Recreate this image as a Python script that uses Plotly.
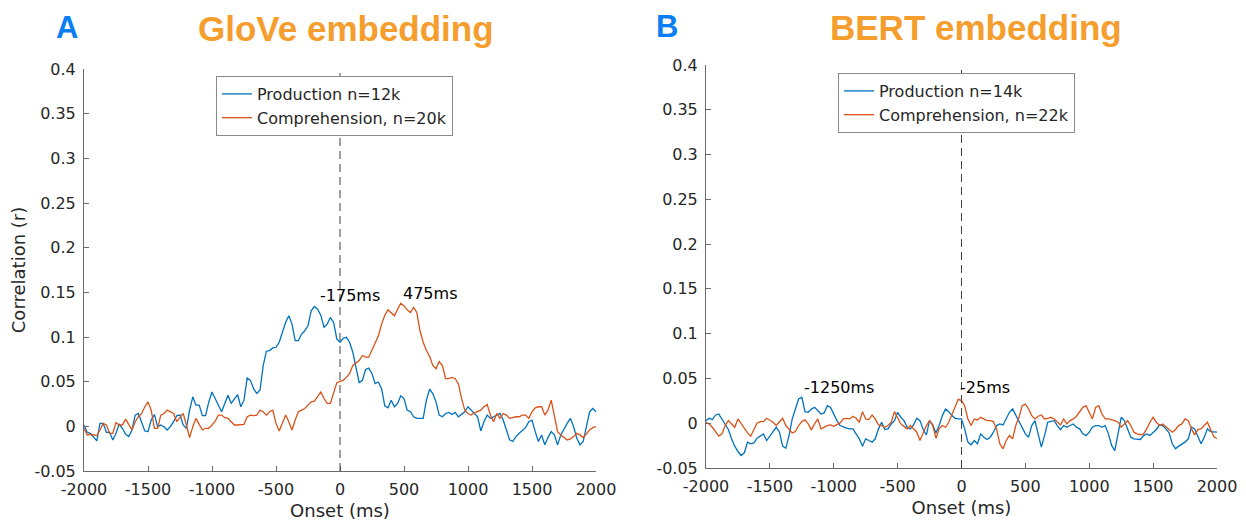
import plotly.graph_objects as go

# ---------------- data ----------------
lags = list(range(-2000, 2001, 25))  # ms

glove_prod = [
    0.0015, -0.0067, -0.0078, -0.0120, -0.0163, 0.0033, 0.0033, -0.0067, -0.0067, -0.0152,
    -0.0078, 0.0026, -0.0022, -0.0089, -0.0115, -0.0041, 0.0126, 0.0144, 0.0052, -0.0052,
    -0.0059, 0.0070, 0.0133, -0.0004, 0.0015, -0.0004, -0.0041, -0.0004, 0.0052, 0.0119,
    0.0126, 0.0015, -0.0022, 0.0181, 0.0330, 0.0237, 0.0237, 0.0119, 0.0119, 0.0274,
    0.0385, 0.0311, 0.0219, 0.0163, 0.0256, 0.0348, 0.0256, 0.0311, 0.0356, 0.0219,
    0.0293, 0.0541, 0.0515, 0.0422, 0.0367, 0.0404, 0.0681, 0.0841, 0.0848, 0.0878,
    0.0885, 0.0941, 0.1041, 0.1163, 0.1237, 0.1144, 0.0959, 0.0959, 0.1033, 0.1070,
    0.1126, 0.1293, 0.1341, 0.1311, 0.1244, 0.1107, 0.1144, 0.1219, 0.1163, 0.0978,
    0.0941,
    0.0985, 0.0996, 0.0941, 0.0830, 0.0663, 0.0489, 0.0515, 0.0637, 0.0652, 0.0589,
    0.0478, 0.0496, 0.0422, 0.0230, 0.0207, 0.0293, 0.0219, 0.0256, 0.0341, 0.0311,
    0.0181, 0.0163, 0.0107, 0.0089, 0.0089, 0.0089, 0.0293, 0.0415, 0.0367, 0.0274,
    0.0126, 0.0107, 0.0144, 0.0156, 0.0133, 0.0156, 0.0107, 0.0135, 0.0163, 0.0219,
    0.0181, 0.0144, 0.0107, -0.0052, 0.0052, 0.0126, 0.0089, 0.0107, 0.0126, 0.0144,
    0.0070, -0.0041, -0.0152, -0.0170, -0.0115, -0.0078, -0.0041, -0.0015, 0.0052, 0.0070,
    -0.0059, -0.0170, -0.0096, -0.0207, -0.0126, -0.0059, -0.0096, -0.0207, -0.0096, -0.0022,
    0.0033, 0.0089, -0.0004, -0.0133, -0.0207, -0.0170, -0.0015, 0.0163, 0.0200, 0.0163,
]

glove_comp = [
    -0.0022, -0.0096, -0.0089, -0.0096, -0.0104, -0.0041, 0.0033, 0.0015, -0.0078, -0.0078,
    0.0041, 0.0015, 0.0015, 0.0081, 0.0015, -0.0041, 0.0052, 0.0107, 0.0144, 0.0219,
    0.0274, 0.0181, -0.0022, -0.0022, 0.0126, 0.0144, 0.0181, 0.0163, 0.0144, 0.0052,
    0.0096, 0.0144, 0.0015, -0.0126, -0.0004, 0.0089, 0.0022, -0.0041, -0.0022, -0.0022,
    0.0015, 0.0059, 0.0126, 0.0126, 0.0096, 0.0089, 0.0052, 0.0015, 0.0015, 0.0015,
    0.0022, 0.0107, 0.0126, 0.0119, 0.0126, 0.0181, 0.0163, 0.0126, 0.0163, 0.0181,
    0.0033, -0.0052, 0.0033, 0.0126, 0.0052, -0.0041, 0.0070, 0.0163, 0.0181, 0.0200,
    0.0237, 0.0274, 0.0281, 0.0330, 0.0385, 0.0311, 0.0256, 0.0256, 0.0367, 0.0489,
    0.0504,
    0.0515, 0.0548, 0.0589, 0.0681, 0.0707, 0.0737, 0.0793, 0.0774, 0.0774, 0.0848,
    0.0930, 0.1015, 0.1144, 0.1244, 0.1304, 0.1274, 0.1237, 0.1311, 0.1378, 0.1348,
    0.1304, 0.1274, 0.1330, 0.1274, 0.1070, 0.0941, 0.0848, 0.0785, 0.0681, 0.0644,
    0.0726, 0.0681, 0.0533, 0.0533, 0.0548, 0.0533, 0.0478, 0.0311, 0.0181, 0.0144,
    0.0126, 0.0150, 0.0170, 0.0181, 0.0219, 0.0244, 0.0126, 0.0052, 0.0144, 0.0089,
    0.0144, 0.0126, 0.0089, 0.0100, 0.0107, 0.0107, 0.0126, 0.0126, 0.0089, 0.0163,
    0.0207, 0.0219, 0.0219, 0.0126, 0.0181, 0.0293, 0.0107, -0.0059, -0.0096, -0.0126,
    -0.0152, -0.0141, -0.0115, -0.0078, -0.0096, -0.0126, -0.0078, -0.0041, -0.0015, -0.0004,
]

bert_prod = [
    0.0029, 0.0055, 0.0041, 0.0092, 0.0103, 0.0048, -0.0019, -0.0070, -0.0174, -0.0256,
    -0.0316, -0.0360, -0.0330, -0.0211, -0.0230, -0.0219, -0.0167, -0.0145, -0.0119, -0.0193,
    -0.0138, -0.0093, -0.0045, -0.0100, -0.0256, -0.0280, -0.0138, 0.0048, 0.0159, 0.0270,
    0.0289, 0.0129, 0.0122, 0.0159, 0.0177, 0.0140, 0.0103, 0.0115, 0.0196, 0.0177,
    0.0103, 0.0029, -0.0026, -0.0045, -0.0055, -0.0063, -0.0063, -0.0119, -0.0174, -0.0256,
    -0.0174, -0.0193, -0.0211, -0.0174, -0.0063, 0.0011, -0.0071, -0.0063, -0.0008, 0.0029,
    0.0122, 0.0066, 0.0029, -0.0045, -0.0063, -0.0019, 0.0055, 0.0029, -0.0071, -0.0130,
    0.0029, -0.0019, -0.0108, -0.0026, 0.0085, 0.0159, 0.0129, 0.0085, 0.0055, 0.0048,
    0.0048,
    -0.0063, -0.0211, -0.0240, -0.0193, -0.0230, -0.0119, -0.0156, -0.0182, -0.0156, -0.0100,
    -0.0026, -0.0008, -0.0019, 0.0048, 0.0122, 0.0159, 0.0085, 0.0011, -0.0063, -0.0119,
    -0.0156, -0.0026, 0.0029, -0.0119, -0.0267, -0.0138, 0.0011, 0.0020, 0.0029, -0.0026,
    -0.0071, -0.0026, -0.0045, -0.0026, -0.0008, -0.0045, -0.0063, -0.0119, -0.0138, -0.0100,
    -0.0045, -0.0026, -0.0026, -0.0045, -0.0026, -0.0119, -0.0248, -0.0305, -0.0138, 0.0066,
    0.0029, -0.0063, -0.0156, -0.0174, -0.0178, -0.0182, -0.0138, -0.0119, -0.0138, -0.0108,
    -0.0070, -0.0019, -0.0026, -0.0063, -0.0108, -0.0230, -0.0286, -0.0256, -0.0230, -0.0211,
    -0.0174, -0.0045, -0.0063, -0.0138, -0.0230, -0.0156, -0.0063, -0.0093, -0.0100, -0.0100,
]

bert_comp = [
    0.0011, -0.0008, -0.0045, -0.0100, -0.0145, -0.0119, -0.0026, 0.0029, -0.0008, -0.0045,
    0.0048, -0.0008, -0.0056, -0.0108, -0.0145, -0.0063, 0.0003, 0.0018, 0.0018, 0.0055,
    0.0035, 0.0011, -0.0026, 0.0011, 0.0055, -0.0026, -0.0070, -0.0108, -0.0093, -0.0026,
    0.0018, 0.0037, -0.0008, -0.0074, -0.0008, 0.0048, -0.0063, -0.0045, -0.0026, -0.0019,
    -0.0034, -0.0015, 0.0003, 0.0048, 0.0055, 0.0048, 0.0078, 0.0055, 0.0011, 0.0129,
    0.0048, 0.0041, 0.0092, 0.0048, -0.0019, -0.0026, -0.0045, -0.0026, 0.0011, 0.0129,
    0.0066, -0.0008, -0.0035, -0.0063, -0.0026, -0.0063, -0.0100, -0.0193, -0.0100, -0.0026,
    0.0029, -0.0026, -0.0167, -0.0063, -0.0026, -0.0045, 0.0011, 0.0103, 0.0177, 0.0270,
    0.0253,
    0.0196, 0.0048, -0.0026, 0.0048, 0.0037, 0.0066, 0.0048, 0.0029, 0.0029, 0.0018,
    -0.0070, -0.0230, -0.0286, -0.0193, -0.0138, -0.0174, -0.0026, 0.0066, 0.0196, 0.0214,
    0.0159, 0.0085, 0.0048, 0.0078, 0.0092, 0.0048, 0.0055, 0.0066, 0.0048, 0.0011,
    -0.0019, 0.0048, -0.0008, 0.0029, 0.0048, 0.0078, 0.0122, 0.0177, 0.0196, 0.0122,
    0.0048, 0.0177, 0.0196, 0.0103, 0.0048, 0.0048, 0.0041, 0.0029, 0.0011, -0.0045,
    -0.0008, 0.0029, -0.0026, -0.0100, -0.0118, -0.0130, -0.0119, -0.0063, 0.0011, 0.0066,
    0.0011, -0.0026, -0.0008, -0.0045, -0.0070, -0.0100, -0.0070, -0.0026, -0.0008, 0.0048,
    0.0029, -0.0063, -0.0130, -0.0070, -0.0063, -0.0026, 0.0011, -0.0070, -0.0148, -0.0174,
]

x_ticks = [-2000, -1500, -1000, -500, 0, 500, 1000, 1500, 2000]
x_tick_labels = ["-2000", "-1500", "-1000", "-500", "0", "500", "1000", "1500", "2000"]
y_ticks = [-0.05, 0, 0.05, 0.1, 0.15, 0.2, 0.25, 0.3, 0.35, 0.4]
y_tick_labels = ["-0.05", "0", "0.05", "0.1", "0.15", "0.2", "0.25", "0.3", "0.35", "0.4"]

legend_a = ["Production n=12k", "Comprehension, n=20k"]
legend_b = ["Production n=14k", "Comprehension, n=22k"]

peaks_a = [(-175, 0.146, "-175ms"), (475, 0.149, "475ms")]
peaks_b = [(-1250, 0.040, "-1250ms"), (-25, 0.040, "-25ms")]

# ---------------- figure ----------------
# the page body has an 8px margin, so the figure is drawn 8px smaller and
# every window-pixel position is converted to paper coordinates with that offset
OFF = 8
W, H = 1246 - OFF, 522 - OFF


def px(x):
    return (x - OFF) / W


def py(y):
    return 1 - (y - OFF) / H


BLUE = "#0072BD"
ORANGE = "#D95319"
TXT = "#262626"
AX = "#6a6a6a"
FONT = "DejaVu Sans"

fig = go.Figure()
fig.add_trace(go.Scatter(x=lags, y=glove_prod, mode="lines", name=legend_a[0],
                         line=dict(color=BLUE, width=1.3), xaxis="x", yaxis="y", legend="legend"))
fig.add_trace(go.Scatter(x=lags, y=glove_comp, mode="lines", name=legend_a[1],
                         line=dict(color=ORANGE, width=1.3), xaxis="x", yaxis="y", legend="legend"))
fig.add_trace(go.Scatter(x=lags, y=bert_prod, mode="lines", name=legend_b[0],
                         line=dict(color=BLUE, width=1.3), xaxis="x2", yaxis="y2", legend="legend2"))
fig.add_trace(go.Scatter(x=lags, y=bert_comp, mode="lines", name=legend_b[1],
                         line=dict(color=ORANGE, width=1.3), xaxis="x2", yaxis="y2", legend="legend2"))


def xax(dom, anchor, title):
    return dict(domain=dom, anchor=anchor, range=[-2000, 2000], tickmode="array",
                tickvals=x_ticks, ticktext=x_tick_labels, ticks="inside", ticklen=5,
                tickcolor=AX, showline=True, linecolor=AX, linewidth=1, showgrid=False,
                zeroline=False, tickfont=dict(family=FONT, size=16, color=TXT),
                ticklabelstandoff=4, automargin=False,
                title=dict(text=title, font=dict(family=FONT, size=18, color=TXT), standoff=6))


def yax(dom, anchor, title):
    return dict(domain=dom, anchor=anchor, range=[-0.05, 0.4], tickmode="array",
                tickvals=y_ticks, ticktext=y_tick_labels, ticks="inside", ticklen=5,
                tickcolor=AX, showline=True, linecolor=AX, linewidth=1, showgrid=False,
                zeroline=False, tickfont=dict(family=FONT, size=16, color=TXT),
                ticklabelstandoff=4, automargin=False,
                title=dict(text=title, font=dict(family=FONT, size=18, color=TXT), standoff=4))


xa_dom = [px(84), px(596)]
xb_dom = [px(706), px(1217)]
ya_dom = [py(471), py(69)]
yb_dom = [py(468), py(65)]

annotations = []
for (xv, yv, t) in peaks_a:
    annotations.append(dict(x=xv, y=yv, xref="x", yref="y", text=t, showarrow=False,
                            xanchor="left", yanchor="middle",
                            font=dict(family=FONT, size=16, color="black")))
for (xv, yv, t) in peaks_b:
    annotations.append(dict(x=xv, y=yv, xref="x2", yref="y2", text=t, showarrow=False,
                            xanchor="left", yanchor="middle",
                            font=dict(family=FONT, size=16, color="black")))

TITLE_FONT = dict(family="Liberation Sans", size=35, color="#F59E2E", weight="bold")
LETTER_FONT = dict(family="Liberation Sans", size=31, color="#0A7EF5", weight="bold")
annotations += [
    dict(x=px(346), y=py(29), xref="paper", yref="paper", text="GloVe embedding",
         showarrow=False, xanchor="center", yanchor="middle", font=TITLE_FONT),
    dict(x=px(976), y=py(28), xref="paper", yref="paper", text="BERT embedding",
         showarrow=False, xanchor="center", yanchor="middle", font=TITLE_FONT),
    dict(x=px(66.5), y=py(28), xref="paper", yref="paper", text="A",
         showarrow=False, xanchor="center", yanchor="middle", font=LETTER_FONT),
    dict(x=px(667), y=py(27), xref="paper", yref="paper", text="B",
         showarrow=False, xanchor="center", yanchor="middle", font=LETTER_FONT),
]

shapes = [
    dict(type="line", xref="x", yref="y domain", x0=0, x1=0, y0=0, y1=1,
         line=dict(color="#404040", width=1, dash="8px,5px")),
    dict(type="line", xref="x2", yref="y2 domain", x0=0, x1=0, y0=0, y1=1,
         line=dict(color="#404040", width=1, dash="8px,5px")),
]

legend_style = dict(bgcolor="white", bordercolor="#8a8a8a", borderwidth=1,
                    font=dict(family=FONT, size=16, color=TXT), xanchor="left",
                    yanchor="top", itemwidth=30, tracegroupgap=0)

fig.update_layout(
    width=W, height=H, margin=dict(l=0, r=0, t=0, b=0),
    paper_bgcolor="white", plot_bgcolor="white", showlegend=True,
    xaxis=xax(xa_dom, "y", "Onset (ms)"),
    yaxis=yax(ya_dom, "x", "Correlation (r)"),
    xaxis2=xax(xb_dom, "y2", "Onset (ms)"),
    yaxis2=yax(yb_dom, "x2", ""),
    legend=dict(x=px(216), y=py(76), **legend_style),
    legend2=dict(x=px(838), y=py(73), **legend_style),
    annotations=annotations,
    shapes=shapes,
)

fig.write_html("out.html")
